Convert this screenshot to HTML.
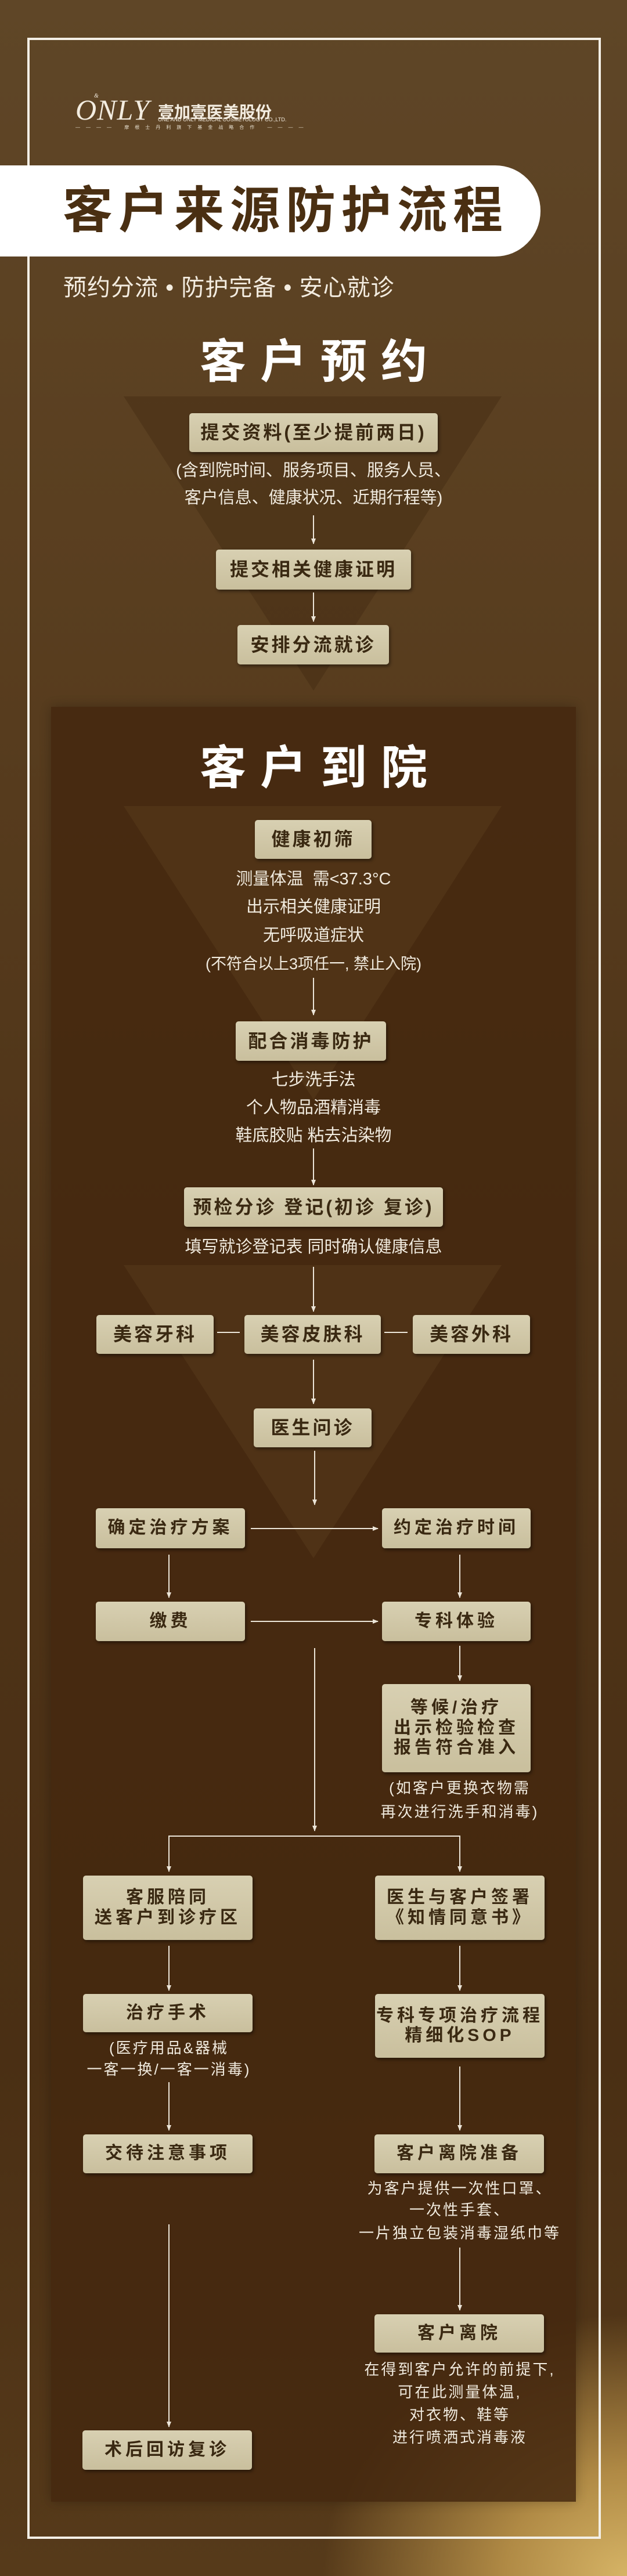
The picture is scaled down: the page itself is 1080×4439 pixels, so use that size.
<!DOCTYPE html>
<html><head><meta charset="utf-8">
<style>
*{margin:0;padding:0;box-sizing:border-box}
body{width:1080px;height:4439px;position:relative;overflow:hidden;font-family:"Liberation Sans","Noto Sans CJK SC",sans-serif;
background:radial-gradient(ellipse 700px 600px at 1080px 4439px,#d6b466 0%,#b08a45 30%,rgba(120,80,35,0) 75%),linear-gradient(180deg,#5f4627 0%,#5a3f20 20%,#4f3418 50%,#4a2f14 80%,#563a1a 100%);}
.abs{position:absolute}
.frame{position:absolute;left:47px;top:65px;width:988px;height:4310px;border:4px solid #f3efe6}
.panel{position:absolute;left:88px;top:1218px;width:904px;height:3093px;background:#45280f;opacity:.85;box-shadow:0 0 20px rgba(0,0,0,.3)}
.banner{position:absolute;left:0;top:285px;width:931px;height:157px;background:#fff;border-radius:0 78px 78px 0}
.title{position:absolute;left:0;top:285px;width:931px;height:157px;line-height:157px;padding-left:108px;font-size:86px;font-weight:bold;color:#4a2f12;letter-spacing:10px;white-space:nowrap}
.sub{position:absolute;left:109px;top:463px;font-size:40px;color:#f3ece0;white-space:nowrap;letter-spacing:1px}
.h{position:absolute;left:0;width:1080px;text-align:center;font-size:80px;font-weight:bold;color:#fff;letter-spacing:24px;padding-left:24px}
.box{position:absolute;background:linear-gradient(180deg,#d8d0b2,#c9bf9d);border-radius:5px;box-shadow:2px 3px 6px rgba(0,0,0,.45);display:flex;align-items:center;justify-content:center;text-align:center;color:#3a2912;font-weight:bold;font-size:32px;letter-spacing:4px;line-height:1.15}
.box.s{font-size:30px;letter-spacing:6px}
.t{position:absolute;text-align:center;color:#f1ebdf;font-size:29px;white-space:nowrap;line-height:1}
.t2{position:absolute;text-align:center;color:#f1ebdf;font-size:26px;letter-spacing:3px;white-space:nowrap;line-height:1}
</style></head><body>
<svg class="abs" style="left:0;top:0" width="1080" height="4439">
<polygon points="213,683 864,683 540,1190" fill="#3d250d" opacity=".35"/>
</svg>
<div class="panel"></div>
<svg class="abs" style="left:0;top:0" width="1080" height="4439">
<polygon points="213,1389 864,1389 540,1895" fill="#573a1c" opacity=".55"/>
<polygon points="213,2180 864,2180 540,2685" fill="#573a1c" opacity=".55"/>
</svg>
<div class="frame"></div>
<div class="abs" style="left:130px;top:164px;font-family:'Liberation Serif',serif;font-style:italic;font-size:50px;color:#f3ece0;letter-spacing:1px;line-height:1">ONLY</div>
<div class="abs" style="left:162px;top:160px;font-family:'Liberation Serif',serif;font-style:italic;font-size:10px;color:#f3ece0">&amp;</div>
<div class="abs" style="left:272px;top:172px;font-size:28px;font-weight:bold;color:#f3ece0;white-space:nowrap">壹加壹医美股份</div>
<div class="abs" style="left:272px;top:201px;font-size:9px;color:#f3ece0;white-space:nowrap">ONE AND ONLY MEDICAL COSMETOLOGY CO.,LTD.</div>
<div class="abs" style="left:130px;top:214px;font-size:8px;color:#e8e0d0;white-space:nowrap;letter-spacing:10px">———— 摩根士丹利旗下基金战略合作 ————</div>
<div class="banner"></div>
<div class="title">客户来源防护流程</div>
<div class="sub">预约分流 • 防护完备 • 安心就诊</div>
<div class="h" style="top:576px;line-height:96px">客户预约</div>
<div class="h" style="top:1276px;line-height:96px">客户到院</div>

<div class="box" style="left:326px;top:712px;width:428px;height:67px">提交资料(至少提前两日)</div>
<div class="t" style="left:0;width:1080px;top:797px">(含到院时间、服务项目、服务人员、</div>
<div class="t" style="left:0;width:1080px;top:844px">客户信息、健康状况、近期行程等)</div>
<div class="box" style="left:372px;top:947px;width:336px;height:69px">提交相关健康证明</div>
<div class="box" style="left:409px;top:1077px;width:261px;height:68px">安排分流就诊</div>

<div class="box" style="left:439px;top:1413px;width:201px;height:67px">健康初筛</div>
<div class="t" style="left:0;width:1080px;top:1501px">测量体温&nbsp; 需&lt;37.3°C</div>
<div class="t" style="left:0;width:1080px;top:1549px">出示相关健康证明</div>
<div class="t" style="left:0;width:1080px;top:1598px">无呼吸道症状</div>
<div class="t" style="left:0;width:1080px;top:1648px;font-size:27px">(不符合以上3项任一, 禁止入院)</div>
<div class="box" style="left:406px;top:1760px;width:259px;height:68px">配合消毒防护</div>
<div class="t" style="left:0;width:1080px;top:1847px">七步洗手法</div>
<div class="t" style="left:0;width:1080px;top:1895px">个人物品酒精消毒</div>
<div class="t" style="left:0;width:1080px;top:1943px">鞋底胶贴 粘去沾染物</div>
<div class="box" style="left:317px;top:2046px;width:446px;height:68px">预检分诊 登记(初诊 复诊)</div>
<div class="t" style="left:0;width:1080px;top:2135px">填写就诊登记表 同时确认健康信息</div>
<div class="box" style="left:166px;top:2266px;width:202px;height:67px">美容牙科</div>
<div class="box" style="left:421px;top:2266px;width:235px;height:67px">美容皮肤科</div>
<div class="box" style="left:711px;top:2266px;width:202px;height:67px">美容外科</div>
<div class="box" style="left:437px;top:2427px;width:203px;height:67px">医生问诊</div>

<div class="box s" style="left:165px;top:2599px;width:257px;height:69px">确定治疗方案</div>
<div class="box s" style="left:658px;top:2599px;width:256px;height:69px">约定治疗时间</div>
<div class="box s" style="left:165px;top:2760px;width:257px;height:68px">缴费</div>
<div class="box s" style="left:658px;top:2760px;width:256px;height:68px">专科体验</div>
<div class="box s" style="left:658px;top:2902px;width:256px;height:152px">等候/治疗<br>出示检验检查<br>报告符合准入</div>
<div class="t2" style="left:592px;width:400px;top:3068px">(如客户更换衣物需</div>
<div class="t2" style="left:592px;width:400px;top:3109px">再次进行洗手和消毒)</div>
<div class="box s" style="left:143px;top:3232px;width:292px;height:111px">客服陪同<br>送客户到诊疗区</div>
<div class="box s" style="left:646px;top:3232px;width:292px;height:111px">医生与客户签署<br>《知情同意书》</div>
<div class="box s" style="left:143px;top:3436px;width:292px;height:66px">治疗手术</div>
<div class="t2" style="left:89px;width:404px;top:3516px">(医疗用品&amp;器械</div>
<div class="t2" style="left:89px;width:404px;top:3553px">一客一换/一客一消毒)</div>
<div class="box s" style="left:646px;top:3436px;width:292px;height:110px">专科专项治疗流程<br>精细化SOP</div>
<div class="box s" style="left:143px;top:3678px;width:292px;height:67px">交待注意事项</div>
<div class="box s" style="left:645px;top:3678px;width:292px;height:67px">客户离院准备</div>
<div class="t2" style="left:592px;width:400px;top:3758px">为客户提供一次性口罩、</div>
<div class="t2" style="left:592px;width:400px;top:3795px">一次性手套、</div>
<div class="t2" style="left:572px;width:440px;top:3835px">一片独立包装消毒湿纸巾等</div>
<div class="box s" style="left:645px;top:3988px;width:292px;height:66px">客户离院</div>
<div class="t2" style="left:572px;width:440px;top:4070px">在得到客户允许的前提下,</div>
<div class="t2" style="left:592px;width:400px;top:4109px">可在此测量体温,</div>
<div class="t2" style="left:592px;width:400px;top:4148px">对衣物、鞋等</div>
<div class="t2" style="left:592px;width:400px;top:4187px">进行喷洒式消毒液</div>
<div class="box s" style="left:142px;top:4188px;width:292px;height:68px">术后回访复诊</div>

<svg class="abs" style="left:0;top:0" width="1080" height="4439">
<defs><marker id="a" markerWidth="10" markerHeight="10" refX="9" refY="5" orient="auto" markerUnits="userSpaceOnUse"><path d="M0,1 L10,5 L0,9 Z" fill="#ece5d8"/></marker></defs>
<g stroke="#ece5d8" stroke-width="2" fill="none" marker-end="url(#a)">
<line x1="540" y1="888" x2="540" y2="937"/>
<line x1="540" y1="1021" x2="540" y2="1071"/>
<line x1="540" y1="1685" x2="540" y2="1749"/>
<line x1="540" y1="1979" x2="540" y2="2042"/>
<line x1="540" y1="2183" x2="540" y2="2260"/>
<line x1="540" y1="2343" x2="540" y2="2419"/>
<line x1="542" y1="2500" x2="542" y2="2593"/>
<line x1="291" y1="2679" x2="291" y2="2753"/>
<line x1="792" y1="2679" x2="792" y2="2753"/>
<line x1="792" y1="2836" x2="792" y2="2896"/>
<line x1="542" y1="2840" x2="542" y2="3155"/>
<line x1="291" y1="3164" x2="291" y2="3225"/>
<line x1="792" y1="3164" x2="792" y2="3225"/>
<line x1="291" y1="3353" x2="291" y2="3430"/>
<line x1="792" y1="3353" x2="792" y2="3430"/>
<line x1="291" y1="3588" x2="291" y2="3671"/>
<line x1="792" y1="3561" x2="792" y2="3671"/>
<line x1="792" y1="3873" x2="792" y2="3981"/>
<line x1="291" y1="3833" x2="291" y2="4182"/>
<line x1="432" y1="2634" x2="651" y2="2634"/>
<line x1="432" y1="2794" x2="651" y2="2794"/>
</g>
<g stroke="#ece5d8" stroke-width="2">
<line x1="290" y1="3164" x2="793" y2="3164"/>
<line x1="374" y1="2296" x2="413" y2="2296"/>
<line x1="662" y1="2296" x2="702" y2="2296"/>
</g>
</svg>
</body></html>
